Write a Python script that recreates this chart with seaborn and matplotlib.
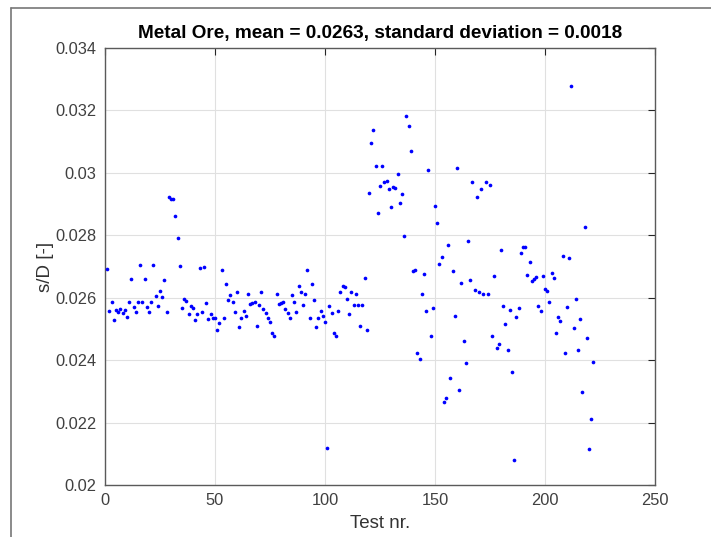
import numpy as np
import pandas as pd
import matplotlib
matplotlib.use("Agg")
import matplotlib.pyplot as plt
from matplotlib.lines import Line2D
import seaborn as sns

title = "Metal Ore, mean = 0.0263, standard deviation = 0.0018"
x_label = "Test nr."
y_label = "s/D [-]"
x_ticks = [0, 50, 100, 150, 200, 250]
y_ticks = [0.020, 0.022, 0.024, 0.026, 0.028, 0.030, 0.032, 0.034]
y_tick_labels = ["0.02", "0.022", "0.024", "0.026", "0.028", "0.03", "0.032", "0.034"]

sd_1_52 = [0.02693, 0.02559, 0.02585, 0.02528, 0.02560, 0.02554, 0.02565, 0.02550,
           0.02560, 0.02537, 0.02586, 0.02661, 0.02569, 0.02553, 0.02587, 0.02704,
           0.02587, 0.02660, 0.02569, 0.02553, 0.02587, 0.02704, 0.02607, 0.02575,
           0.02620, 0.02601, 0.02657, 0.02555, 0.02922, 0.02917, 0.02917, 0.02861,
           0.02790, 0.02702, 0.02568, 0.02596, 0.02588, 0.02548, 0.02575, 0.02568,
           0.02529, 0.02549, 0.02696, 0.02554, 0.02700, 0.02584, 0.02531, 0.02547,
           0.02536, 0.02536, 0.02496, 0.02520]
sd_53_100 = [0.02690, 0.02536, 0.02645, 0.02594, 0.02609, 0.02585, 0.02554, 0.02618,
             0.02507, 0.02534, 0.02557, 0.02542, 0.02613, 0.02579, 0.02583, 0.02587,
             0.02508, 0.02576, 0.02617, 0.02565, 0.02550, 0.02536, 0.02521, 0.02487,
             0.02477, 0.02613, 0.02579, 0.02583, 0.02587, 0.02564, 0.02550, 0.02536,
             0.02610, 0.02585, 0.02554, 0.02638, 0.02617, 0.02578, 0.02613, 0.02690,
             0.02536, 0.02645, 0.02594, 0.02507, 0.02534, 0.02557, 0.02542, 0.02521]
sd_101_150 = [0.02117, 0.02575, 0.02552, 0.02488, 0.02478, 0.02556, 0.02619, 0.02638,
              0.02633, 0.02597, 0.02547, 0.02617, 0.02578, 0.02613, 0.02578, 0.02508,
              0.02578, 0.02664, 0.02498, 0.02935, 0.03096, 0.03136, 0.03022, 0.02872,
              0.02959, 0.03022, 0.02971, 0.02974, 0.02949, 0.02890, 0.02956, 0.02951,
              0.02995, 0.02902, 0.02931, 0.02798, 0.03181, 0.03150, 0.03071, 0.02687,
              0.02689, 0.02424, 0.02404, 0.02612, 0.02677, 0.02557, 0.03009, 0.02478,
              0.02566, 0.02894]
sd_151_200 = [0.02839, 0.02707, 0.02731, 0.02267, 0.02280, 0.02770, 0.02342, 0.02686,
              0.02541, 0.03014, 0.02303, 0.02647, 0.02462, 0.02392, 0.02781, 0.02656,
              0.02970, 0.02625, 0.02924, 0.02619, 0.02947, 0.02611, 0.02970, 0.02611,
              0.02960, 0.02476, 0.02670, 0.02440, 0.02452, 0.02752, 0.02572, 0.02515,
              0.02431, 0.02560, 0.02363, 0.02080, 0.02539, 0.02568, 0.02742, 0.02763,
              0.02763, 0.02673, 0.02716, 0.02653, 0.02659, 0.02665, 0.02574, 0.02559,
              0.02669, 0.02627]
sd_201_222 = [0.02621, 0.02585, 0.02678, 0.02663, 0.02488, 0.02538, 0.02526, 0.02733,
              0.02423, 0.02571, 0.02726, 0.03279, 0.02502, 0.02596, 0.02434, 0.02532,
              0.02297, 0.02828, 0.02472, 0.02116, 0.02211, 0.02394]

sd_values = sd_1_52 + sd_53_100 + sd_101_150 + sd_151_200 + sd_201_222
test_nr = list(range(1, len(sd_values) + 1))

df = pd.DataFrame({"test": test_nr, "sd": sd_values})

sns.set_style("white")
plt.rcParams["font.family"] = ["Liberation Sans", "DejaVu Sans"]

fig = plt.figure(figsize=(7.11, 5.37), dpi=100)
ax = fig.add_axes([105 / 711, 1 - 485 / 537, 550 / 711, 437 / 537])

sns.scatterplot(data=df, x="test", y="sd", ax=ax, color="#0000ff",
                marker="o", s=7, linewidth=0, zorder=3)

ax.set_xlim(0, 250)
ax.set_ylim(0.02, 0.034)
ax.set_xticks(x_ticks)
ax.set_xticklabels([str(t) for t in x_ticks])
ax.set_yticks(y_ticks)
ax.set_yticklabels(y_tick_labels)

ax.grid(True, color="#e0e0e0", linewidth=0.8, zorder=0)
ax.set_axisbelow(True)
for sp in ax.spines.values():
    sp.set_visible(True)
    sp.set_color("#5a5a5a")
    sp.set_linewidth(1.0)

ax.tick_params(axis="both", which="both", direction="in", length=5, width=0.8,
               color="#262626", labelcolor="#404040", labelsize=11.8,
               top=True, right=True, pad=6)

ax.set_xlabel(x_label, fontsize=13.5, color="#333333", labelpad=5)
ax.set_ylabel(y_label, fontsize=13.5, color="#333333", labelpad=1)
ax.set_title(title, fontsize=13.7, fontweight="bold", color="black", pad=7)

# outer frame lines (top and left edges of the figure border)
fig.add_artist(Line2D([11 / 711, 11 / 711], [0, 1 - 8 / 537], transform=fig.transFigure,
                      color="#777777", linewidth=1.2))
fig.add_artist(Line2D([11 / 711, 1], [1 - 8 / 537, 1 - 8 / 537], transform=fig.transFigure,
                      color="#777777", linewidth=1.2))

fig.savefig("out.png", dpi=100, facecolor="white")
